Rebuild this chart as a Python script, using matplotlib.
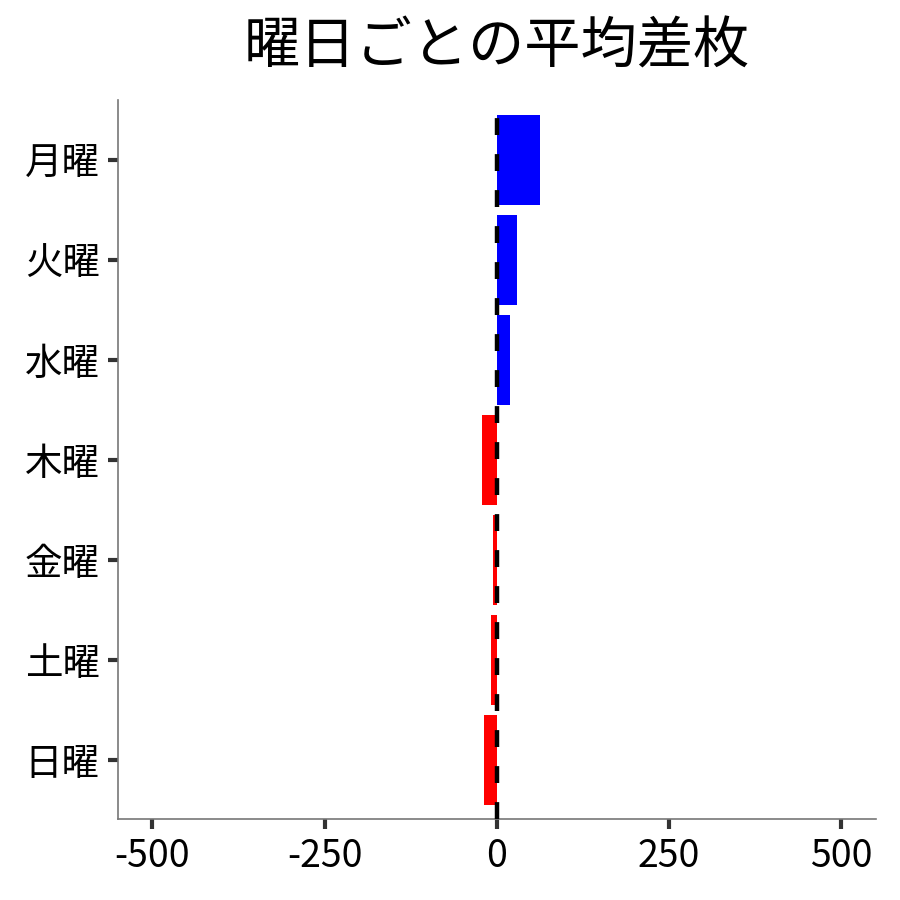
import matplotlib
matplotlib.use('Agg')
import matplotlib.pyplot as plt

plt.rcParams['font.family'] = ['Noto Sans CJK JP', 'DejaVu Sans']

# dati
giorni = ['月曜', '火曜', '水曜', '木曜', '金曜', '土曜', '日曜']
diff_media = [62, 29, 19, -22, -5, -9, -19]
colori = ['blue' if v > 0 else 'red' for v in diff_media]
xticks = [-500, -250, 0, 250, 500]

fig, ax = plt.subplots(figsize=(9, 9), dpi=100)
fig.subplots_adjust(left=0.131, right=0.973, top=0.889, bottom=0.09)

y = list(range(len(giorni)))
ax.barh(y, diff_media, height=0.9, color=colori, zorder=2)
ax.axvline(0, color='black', linewidth=3.2, linestyle=(0, (3.8, 4.3)), zorder=3)

ax.set_yticks(y)
ax.set_yticklabels(giorni)
ax.set_ylim(6.59, -0.6)
ax.set_xlim(-550, 550)
ax.set_xticks(xticks)
ax.set_xticklabels([str(t) for t in xticks])

ax.tick_params(axis='both', labelsize=27, length=7, width=3, color='#333333', pad=6)
for s in ['top', 'right']:
    ax.spines[s].set_visible(False)
for s in ['left', 'bottom']:
    ax.spines[s].set_color('#777777')
    ax.spines[s].set_linewidth(1.2)

ax.set_title('曜日ごとの平均差枚', fontsize=40.5, pad=26)

plt.savefig('out.png', dpi=100)
